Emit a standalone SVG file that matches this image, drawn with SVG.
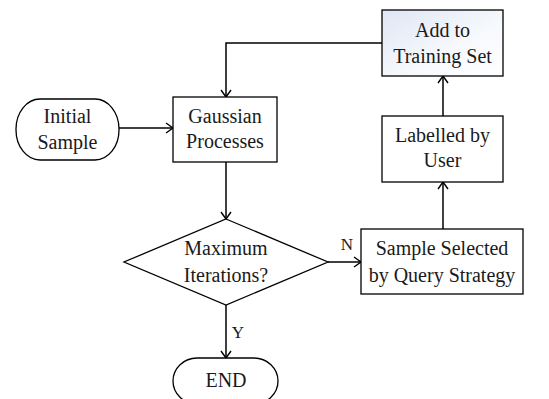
<svg xmlns="http://www.w3.org/2000/svg" width="549" height="399" viewBox="0 0 549 399">
<style>
.n{fill:#fff;stroke:#000;stroke-width:1.3}
.t{font-family:"Liberation Serif","Times New Roman",serif;font-size:20px;fill:#1a1a1a;text-anchor:middle}
.l{font-family:"Liberation Serif","Times New Roman",serif;font-size:17px;fill:#1a1a1a;text-anchor:middle}
.c{fill:none;stroke:#000;stroke-width:1.5}
</style>
<defs>
<linearGradient id="g" x1="0" y1="0" x2="1" y2="1">
<stop offset="0" stop-color="#dfe6f4"/>
<stop offset="0.6" stop-color="#f7f9fd"/>
<stop offset="1" stop-color="#ffffff"/>
</linearGradient>
<marker id="a" markerWidth="12" markerHeight="12" refX="10" refY="6" orient="auto" markerUnits="userSpaceOnUse">
<polyline points="3,1 10,6 3,11" fill="none" stroke="#000" stroke-width="1.4"/>
</marker>
</defs>
<g id="connectors">
<line class="c" x1="119" y1="128" x2="173" y2="128" marker-end="url(#a)"/>
<polyline class="c" points="382,43 226,43 226,97" marker-end="url(#a)"/>
<line class="c" x1="226" y1="162" x2="226" y2="219" marker-end="url(#a)"/>
<line class="c" x1="328" y1="262" x2="361" y2="262" marker-end="url(#a)"/>
<line class="c" x1="443" y1="229" x2="443" y2="182" marker-end="url(#a)"/>
<line class="c" x1="443" y1="116" x2="443" y2="76" marker-end="url(#a)"/>
<line class="c" x1="226" y1="305" x2="226" y2="358" marker-end="url(#a)"/>
<text class="l" x="347" y="250">N</text>
<text class="l" x="238" y="338">Y</text>
</g>
<g id="initial">
<rect class="n" x="16" y="99" width="103" height="61" rx="24" ry="30"/>
<text class="t" x="67.5" y="123">Initial</text>
<text class="t" x="67.5" y="149">Sample</text>
</g>
<g id="gp">
<rect class="n" x="173" y="97" width="104" height="65"/>
<text class="t" x="225" y="123">Gaussian</text>
<text class="t" x="225" y="148">Processes</text>
</g>
<g id="add">
<rect class="n" x="382" y="10" width="121" height="66" style="fill:url(#g)"/>
<text class="t" x="442.5" y="37">Add to</text>
<text class="t" x="442.5" y="63">Training Set</text>
</g>
<g id="label">
<rect class="n" x="382" y="116" width="121" height="66"/>
<text class="t" x="442.5" y="142">Labelled by</text>
<text class="t" x="442.5" y="167">User</text>
</g>
<g id="decision">
<polygon class="n" points="226,219 328,262 226,305 124,262"/>
<text class="t" x="226" y="255">Maximum</text>
<text class="t" x="226" y="282">Iterations?</text>
</g>
<g id="select">
<rect class="n" x="361" y="229" width="162" height="65"/>
<text class="t" x="442" y="255">Sample Selected</text>
<text class="t" x="442" y="282">by Query Strategy</text>
</g>
<g id="end">
<rect class="n" x="173" y="358" width="105" height="46" rx="24" ry="23"/>
<text class="t" x="226" y="387">END</text>
</g>
</svg>
